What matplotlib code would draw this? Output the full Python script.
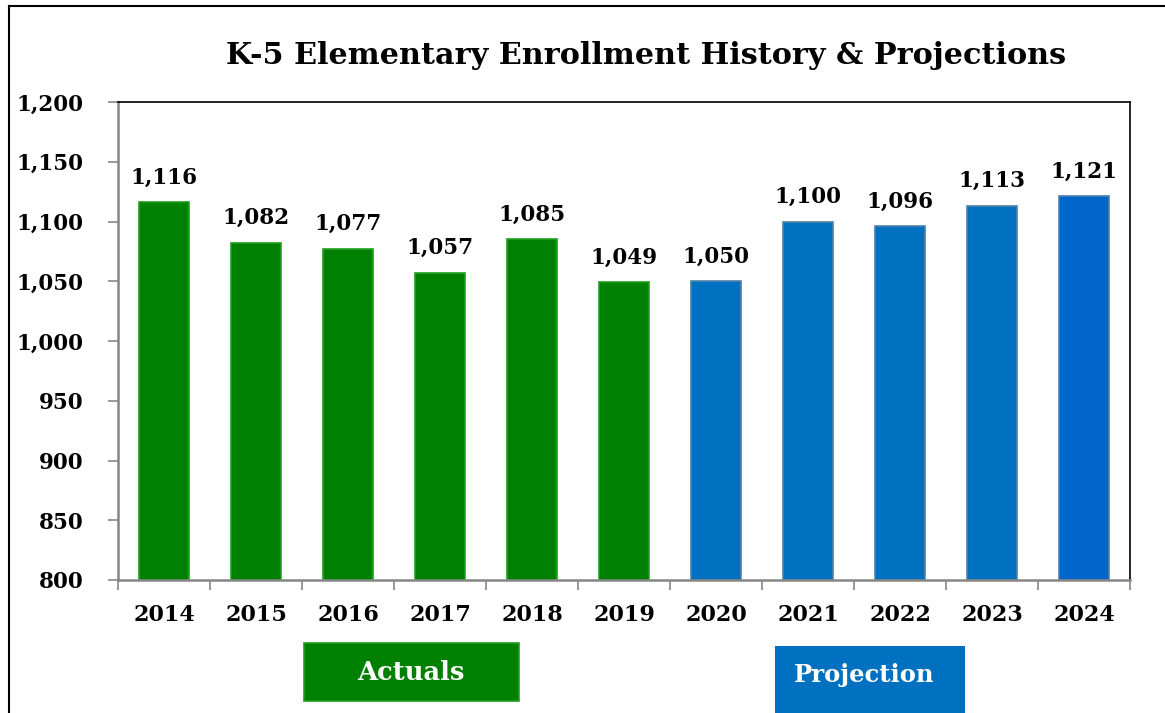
import matplotlib
matplotlib.use("Agg")
import matplotlib.pyplot as plt
from matplotlib.patches import Rectangle
from matplotlib.lines import Line2D
import numpy as np

years = ["2014", "2015", "2016", "2017", "2018", "2019",
         "2020", "2021", "2022", "2023", "2024"]
enrollment = [1116, 1082, 1077, 1057, 1085, 1049, 1050, 1100, 1096, 1113, 1121]
bar_colors = ["#008000"] * 6 + ["#0070C0"] * 4 + ["#0066CC"]
edge_colors = ["#1FA01F"] * 6 + ["#4F81A8"] * 5
y_ticks = [800, 850, 900, 950, 1000, 1050, 1100, 1150, 1200]

plt.rcParams["font.family"] = ["DejaVu Serif"]
plt.rcParams["font.weight"] = "bold"

W, H = 1165, 713
fig = plt.figure(figsize=(W / 100, H / 100), dpi=100)
ax = fig.add_axes([118 / W, 1 - 580 / H, (1130 - 118) / W, (580 - 102) / H])

x = np.arange(len(years))
ax.bar(x, [v - 800 for v in enrollment], bottom=800, width=0.55,
       color=bar_colors, edgecolor=edge_colors, linewidth=1.2, zorder=2)

for xi, v in zip(x, enrollment):
    ax.annotate(f"{v:,}", (xi, v), xytext=(0, 10), textcoords="offset points",
                ha="center", va="bottom", fontsize=15.5, fontweight="bold")

ax.set_xlim(-0.5, len(years) - 0.5)
ax.set_ylim(800, 1200)
ax.set_yticks(y_ticks)
ax.set_yticklabels([f"{t:,}" for t in y_ticks])
ax.set_xticks(x)
ax.set_xticklabels(years)
ax.set_xticks(np.arange(-0.5, len(years)), minor=True)

ax.tick_params(axis="y", length=7, width=1.2, color="#868686", pad=18, labelsize=15.5)
ax.tick_params(axis="x", which="major", length=0, pad=17, labelsize=16)
ax.tick_params(axis="x", which="minor", length=7, width=1.2, color="#868686")

for s in ["left", "bottom"]:
    ax.spines[s].set_color("#868686")
    ax.spines[s].set_linewidth(1.8)
for s in ["top", "right"]:
    ax.spines[s].set_color("black")
    ax.spines[s].set_linewidth(1.2)

fig.text(646 / W, 1 - 56 / H, "K-5 Elementary Enrollment History & Projections",
         ha="center", va="center", fontsize=21.8, fontweight="bold")

# outer frame (top and left edges)
fig.add_artist(Line2D([9 / W, 1], [1 - 6 / H, 1 - 6 / H], color="black", lw=1.5))
fig.add_artist(Line2D([9 / W, 9 / W], [0, 1 - 6 / H], color="black", lw=1.5))

# group label boxes
fig.add_artist(Rectangle((304 / W, 1 - 701 / H), 215 / W, 58 / H,
                         facecolor="#008000", edgecolor="#1FA01F", lw=1.2))
fig.text(411 / W, 1 - 673 / H, "Actuals", ha="center", va="center",
         color="white", fontsize=18.5, fontweight="bold")
fig.add_artist(Rectangle((775 / W, 0), 190 / W, (713 - 646) / H,
                         facecolor="#0070C0", edgecolor="none"))
fig.text(864 / W, 1 - 675 / H, "Projection", ha="center", va="center",
         color="white", fontsize=17.5, fontweight="bold")

fig.savefig("out.png", dpi=100)
